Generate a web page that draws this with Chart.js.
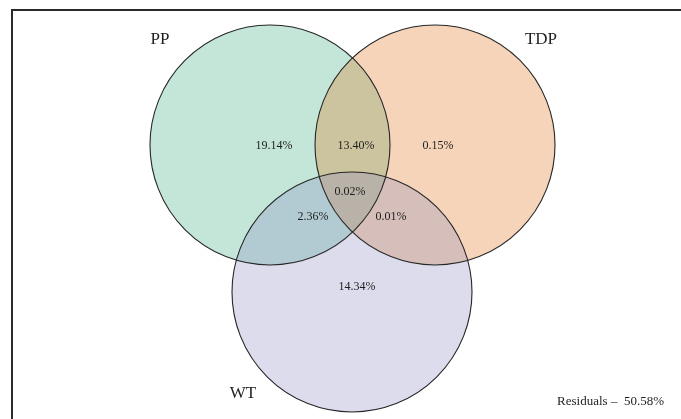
<!DOCTYPE html>
<html>
<head>
<meta charset="utf-8">
<script src="https://cdn.jsdelivr.net/npm/chart.js@4"></script>
<style>
  html, body { margin: 0; padding: 0; background: #fff; }
  .wrap { position: relative; width: 681px; height: 419px; }
  .frame { position: absolute; left: 11px; top: 9px; right: 0; bottom: -10px;
           border-left: 2px solid #2a2a2a; border-top: 2px solid #2a2a2a; }
</style>
</head>
<body>
<div class="wrap">
  <div class="frame"></div>
  <canvas id="vennChart" width="681" height="419"></canvas>
</div>
<script>
// diagram units (x right, y down), circles share one radius
const setNames = ["PP", "TDP", "WT"];
const setX = [270, 435, 352];
const setY = [145, 145, 292];
const setR = [120, 120, 120];
const setColors = ["rgba(55,172,128,0.3)", "rgba(225,112,22,0.3)", "rgba(138,138,192,0.3)"];

const setLabelX = [160, 541, 243];
const setLabelY = [40, 40, 394];

const regionLabels = ["19.14%", "13.40%", "0.15%", "0.02%", "2.36%", "0.01%", "14.34%"];
const regionX = [274, 356, 438, 350, 313, 391, 357];
const regionY = [146, 146, 146, 192, 217, 217, 287];

const residualText = "Residuals \u2013  50.58%";
const residualX = 664;
const residualY = 402;

const fillPoints = setX.map((x, i) => ({ x: x, y: setY[i] }));
const outlinePoints = setX.map((x, i) => ({ x: x, y: setY[i] }));

const textPlugin = {
    id: "vennText",
    afterDatasetsDraw(chart) {
        const ctx = chart.ctx;
        const xs = chart.scales.x;
        const ys = chart.scales.y;
        ctx.save();
        ctx.fillStyle = "#1e1e1e";
        ctx.textAlign = "center";
        ctx.textBaseline = "middle";

        ctx.font = "17px 'Liberation Serif', 'Times New Roman', serif";
        setNames.forEach((name, i) => {
            ctx.fillText(name, xs.getPixelForValue(setLabelX[i]), ys.getPixelForValue(setLabelY[i]));
        });

        ctx.font = "12px 'Liberation Serif', 'Times New Roman', serif";
        regionLabels.forEach((label, i) => {
            ctx.fillText(label, xs.getPixelForValue(regionX[i]), ys.getPixelForValue(regionY[i]));
        });

        ctx.textAlign = "right";
        ctx.font = "13px 'Liberation Serif', 'Times New Roman', serif";
        ctx.fillText(residualText, xs.getPixelForValue(residualX), ys.getPixelForValue(residualY));
        ctx.restore();
    }
};

const vennChart = new Chart(document.getElementById("vennChart"), {
    type: "bubble",
    data: {
        datasets: [
            {
                label: "fill",
                data: fillPoints,
                backgroundColor: setColors,
                borderWidth: 0,
                clip: false,
                order: 2,
            },
            {
                label: "outline",
                data: outlinePoints,
                backgroundColor: "rgba(0,0,0,0)",
                borderColor: "#262626",
                borderWidth: 1.1,
                clip: false,
                order: 1,
            },
        ],
    },
    options: {
        responsive: false,
        animation: false,
        events: [],
        layout: { padding: 0, autoPadding: false },
        scales: {
            x: { type: "linear", min: 0, max: 681, display: false },
            y: { type: "linear", min: 0, max: 419, reverse: true, display: false },
        },
        plugins: {
            legend: { display: false },
            tooltip: { enabled: false },
        },
    },
    plugins: [textPlugin],
});

// bubble r is in pixels, so convert the set radius through the x scale
const xScale = vennChart.scales.x;
const pixelRadii = setR.map((r, i) => Math.abs(xScale.getPixelForValue(setX[i] + r) - xScale.getPixelForValue(setX[i])));
[fillPoints, outlinePoints].forEach((pts) => pts.forEach((p, i) => { p.r = pixelRadii[i]; }));
vennChart.update();
</script>
</body>
</html>
